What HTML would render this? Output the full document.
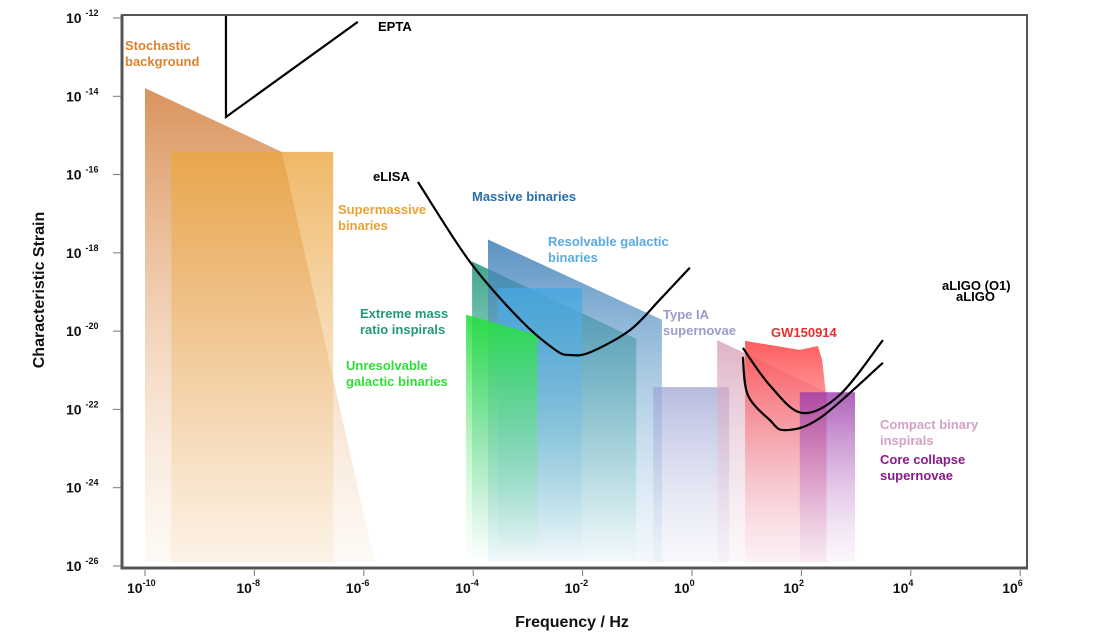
<!DOCTYPE html>
<html><head><meta charset="utf-8">
<style>
body{margin:0;background:#fff;width:1096px;height:638px;overflow:hidden}
svg{font-family:"Liberation Sans",sans-serif;font-weight:bold}
</style></head>
<body>
<svg id="chart" width="1096" height="638" viewBox="0 0 1096 638" xmlns="http://www.w3.org/2000/svg">
<defs>
<linearGradient id="gOr" x1="0" y1="0" x2="0" y2="1"><stop offset="0" stop-color="#d6874a" stop-opacity="0.9"/><stop offset="1" stop-color="#f3c9a0" stop-opacity="0.1"/></linearGradient>
<linearGradient id="gSm" x1="0" y1="0" x2="0" y2="1"><stop offset="0" stop-color="#eba640" stop-opacity="0.8"/><stop offset="1" stop-color="#f5d4a8" stop-opacity="0.2"/></linearGradient>
<linearGradient id="gTeal" x1="0" y1="0" x2="0" y2="1"><stop offset="0" stop-color="#1f9578" stop-opacity="0.85"/><stop offset="1" stop-color="#5fd0b0" stop-opacity="0"/></linearGradient>
<linearGradient id="gBlue" x1="0" y1="0" x2="0" y2="1"><stop offset="0" stop-color="#3f7fb8" stop-opacity="0.85"/><stop offset="1" stop-color="#8cc0e0" stop-opacity="0.1"/></linearGradient>
<linearGradient id="gLBlue" x1="0" y1="0" x2="0" y2="1"><stop offset="0" stop-color="#45a6e2" stop-opacity="0.8"/><stop offset="1" stop-color="#9fd0ee" stop-opacity="0"/></linearGradient>
<linearGradient id="gGreen" x1="0" y1="0" x2="0" y2="1"><stop offset="0" stop-color="#22e03c" stop-opacity="0.9"/><stop offset="1" stop-color="#a0f0b0" stop-opacity="0"/></linearGradient>
<linearGradient id="gLav" x1="0" y1="0" x2="0" y2="1"><stop offset="0" stop-color="#9ea4d4" stop-opacity="0.75"/><stop offset="1" stop-color="#d8dcf0" stop-opacity="0.2"/></linearGradient>
<linearGradient id="gPink" x1="0" y1="0" x2="0" y2="1"><stop offset="0" stop-color="#d49ab4" stop-opacity="0.75"/><stop offset="1" stop-color="#f0dbe6" stop-opacity="0.2"/></linearGradient>
<linearGradient id="gRed" x1="0" y1="0" x2="0" y2="1"><stop offset="0" stop-color="#ff4a4a" stop-opacity="0.9"/><stop offset="1" stop-color="#f8b8c8" stop-opacity="0.1"/></linearGradient>
<linearGradient id="gPur" x1="0" y1="0" x2="0" y2="1"><stop offset="0" stop-color="#9a3aa8" stop-opacity="0.8"/><stop offset="1" stop-color="#d8a8e0" stop-opacity="0.1"/></linearGradient>
</defs>
<g id="areas"></g>
<g id="curves"></g>
<g id="axes"></g>
<g id="labels"></g>
</svg>
<script>
const xTicks = [-10,-8,-6,-4,-2,0,2,4,6];
const yTicks = [-12,-14,-16,-18,-20,-22,-24,-26];
const regionNames = ["stochastic-background","supermassive-binaries","extreme-mass-ratio-inspirals","massive-binaries","resolvable-galactic-binaries","unresolvable-galactic-binaries","type-ia-supernovae","compact-binary-inspirals","gw150914","core-collapse-supernovae"];
const regionFills = ["url(#gOr)","url(#gSm)","url(#gTeal)","url(#gBlue)","url(#gLBlue)","url(#gGreen)","url(#gLav)","url(#gPink)","url(#gRed)","url(#gPur)"];
const regionPolys = [
 [[-10,-13.79],[-7.5,-15.42],[-5.80,-25.9],[-10,-25.9]],
 [[-9.52,-15.42],[-6.56,-15.42],[-6.56,-25.9],[-9.52,-25.9]],
 [[-4.02,-18.22],[-1.02,-20.2],[-1.02,-25.9],[-4.02,-25.9]],
 [[-3.73,-17.66],[-0.55,-19.71],[-0.55,-25.9],[-3.73,-25.9]],
 [[-3.55,-18.9],[-2.01,-18.9],[-2.01,-25.9],[-3.55,-25.9]],
 [[-4.13,-19.58],[-2.83,-20.1],[-2.83,-25.9],[-4.13,-25.9]],
 [[-0.71,-21.43],[0.68,-21.43],[0.68,-25.9],[-0.71,-25.9]],
 [[0.46,-20.23],[2.47,-21.56],[2.47,-25.9],[0.46,-25.9]],
 [[0.97,-20.25],[1.97,-20.48],[2.30,-20.38],[2.38,-20.74],[2.45,-21.63],[2.45,-25.9],[0.97,-25.9]],
 [[1.97,-21.56],[2.98,-21.56],[2.98,-25.9],[1.97,-25.9]]
];
const curveNames = ["epta-curve","elisa-curve","aligo-o1-curve","aligo-curve"];
const curvePts = [
 [[-8.52,-11.92],[-8.52,-14.53],[-6.11,-12.1]],
 [[-5.01,-16.19],[-4.06,-18.23],[-3.14,-19.71],[-2.50,-20.48],[-2.23,-20.61],[-1.86,-20.54],[-1.13,-19.97],[-0.59,-19.2],[-0.04,-18.38]],
 [[0.93,-20.43],[1.42,-21.38],[2.01,-22.09],[2.70,-21.63],[3.49,-20.23]],
 [[0.93,-20.66],[1.02,-21.63],[1.42,-22.27],[1.70,-22.53],[2.34,-22.22],[3.49,-20.81]]
];
const labelNames = ["stochastic-label","epta-label","elisa-label","supermassive-label","massive-binaries-label","resolvable-label","emri-label","unresolvable-label","type-ia-label","gw150914-label","aligo-o1-label","aligo-label","compact-label","core-collapse-label"];
const labelText = [["Stochastic","background"],["EPTA"],["eLISA"],["Supermassive","binaries"],["Massive binaries"],["Resolvable galactic","binaries"],["Extreme mass","ratio inspirals"],["Unresolvable","galactic binaries"],["Type IA","supernovae"],["GW150914"],["aLIGO (O1)"],["aLIGO"],["Compact binary","inspirals"],["Core collapse","supernovae"]];
const labelPos = [[125,50],[378,31],[373,181],[338,214],[472,201],[548,246],[360,318],[346,370],[663,319],[771,337],[942,290],[956,301],[880,429],[880,464]];
const labelColor = ["#d9822f","#000","#000","#e8a235","#2a6fae","#5aaae0","#23987a","#30dd38","#9a9ccc","#e52f2f","#000","#000","#d4a2c2","#8a1a8a"];

const X0=145, DX=54.7, Y0=18, DY=39.14;
const X = d => X0 + (d+10)*DX;
const Y = e => Y0 + (-12-e)*DY;
const NS="http://www.w3.org/2000/svg";
function mk(tag, attrs, parent){const el=document.createElementNS(NS,tag);for(const k in attrs)el.setAttribute(k,attrs[k]);parent.appendChild(el);return el;}
const areas=document.getElementById('areas'), curves=document.getElementById('curves'), axes=document.getElementById('axes'), labels=document.getElementById('labels');
regionPolys.forEach((poly,i)=>{
  const p=mk('polygon',{points:poly.map(q=>X(q[0]).toFixed(1)+','+Y(q[1]).toFixed(1)).join(' '),fill:regionFills[i]},areas);
  
  
});
curvePts.forEach((pts,i)=>{
  let d='M'+X(pts[0][0])+','+Y(pts[0][1]);
  if(i===0){pts.slice(1).forEach(q=>d+=' L'+X(q[0])+','+Y(q[1]));}
  else{
    for(let k=0;k<pts.length-1;k++){
      const p0=pts[Math.max(k-1,0)],p1=pts[k],p2=pts[k+1],p3=pts[Math.min(k+2,pts.length-1)];
      const c1=[X(p1[0])+(X(p2[0])-X(p0[0]))/6, Y(p1[1])+(Y(p2[1])-Y(p0[1]))/6];
      const c2=[X(p2[0])-(X(p3[0])-X(p1[0]))/6, Y(p2[1])-(Y(p3[1])-Y(p1[1]))/6];
      d+=' C'+c1[0]+','+c1[1]+' '+c2[0]+','+c2[1]+' '+X(p2[0])+','+Y(p2[1]);
    }
  }
  const c=mk('path',{d:d,fill:'none',stroke:'#000','stroke-width':2.2},curves);
  
  
});
const fr=mk('path',{d:'M122,15 L1027,15 L1027,568 L122,568 Z',fill:'none',stroke:'#555','stroke-width':2},axes);


mk('path',{d:'M122,15 L122,568 L1028,568',fill:'none',stroke:'#555','stroke-width':3},axes);
yTicks.forEach(e=>{
  mk('line',{x1:113,x2:121,y1:Y(e),y2:Y(e),stroke:'#777','stroke-width':1},axes);
  const t=mk('text',{x:66,y:Y(e)+5,'font-size':14,fill:'#111'},axes);
  
  
  t.innerHTML='10 <tspan font-size="9" dy="-7">'+e+'</tspan>';
});
xTicks.forEach(d=>{
  mk('line',{x1:X(d),x2:X(d),y1:570,y2:576,stroke:'#777','stroke-width':1},axes);
  const t=mk('text',{x:X(d)-18,y:593,'font-size':14,fill:'#111'},axes);
  
  
  t.innerHTML='10<tspan font-size="9" dy="-7">'+d+'</tspan>';
});
const xt=mk('text',{x:572,y:627,'font-size':16,'text-anchor':'middle',fill:'#111'},axes);


xt.textContent='Frequency / Hz';
const yt=mk('text',{x:0,y:0,'font-size':16,'text-anchor':'middle',fill:'#111',transform:'translate(44,290) rotate(-90)'},axes);


yt.textContent='Characteristic Strain';
labelText.forEach((lines,i)=>{
  const t=mk('text',{x:labelPos[i][0],y:labelPos[i][1],'font-size':13,fill:labelColor[i]},labels);
  
  
  lines.forEach((s,k)=>{const ts=mk('tspan',{x:labelPos[i][0],dy:k?16:0},t);ts.textContent=s;});
});
</script>
</body></html>
